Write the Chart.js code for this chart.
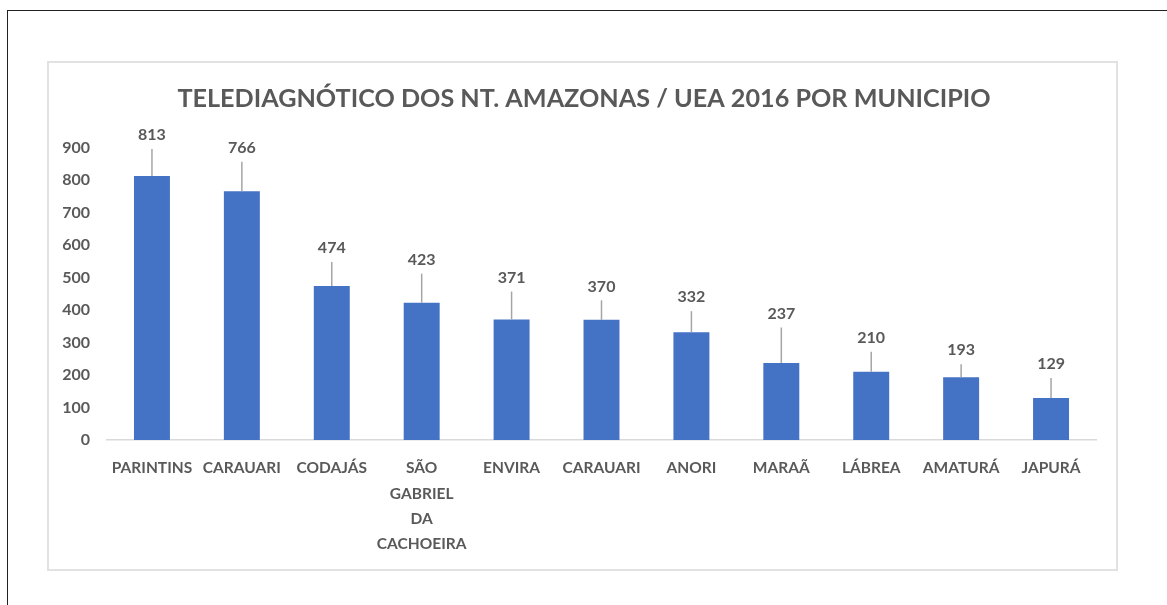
<!DOCTYPE html>
<html>
<head>
<meta charset="utf-8">
<title>Telediagnóstico por município</title>
<script src="https://cdn.jsdelivr.net/npm/chart.js@4.4.1/dist/chart.umd.min.js"></script>
<style>
  html, body { margin: 0; padding: 0; background: #fff; width: 1167px; height: 605px; overflow: hidden; }
  #frame { position: absolute; left: 7px; top: 10px; width: 1300px; height: 800px;
           border-top: 1px solid #222; border-left: 1px solid #222; }
  #box { position: absolute; left: 47px; top: 61px; width: 1067px; height: 506px; border: 2px solid #e2e2e2; }
  #wrap { position: absolute; left: 0; top: 0; width: 1167px; height: 605px; }
</style>
</head>
<body>
<div id="frame"></div>
<div id="box"></div>
<div id="wrap"><canvas id="chart"></canvas></div>

<script>
// data
const municipios = [
  'PARINTINS', 'CARAUARI', 'CODAJÁS', ['SÃO', 'GABRIEL', 'DA', 'CACHOEIRA'],
  'ENVIRA', 'CARAUARI', 'ANORI', 'MARAÃ', 'LÁBREA', 'AMATURÁ', 'JAPURÁ'
];
const exames = [813, 766, 474, 423, 371, 370, 332, 237, 210, 193, 129];
const yTicks = [0, 100, 200, 300, 400, 500, 600, 700, 800, 900];

const TEXT = '#595959';
const FONT = 'Lato, "Open Sans", sans-serif';

// callout labels: value text sits above the bar, joined by a thin leader line
const calloutPlugin = {
  id: 'callouts',
  afterLayout(chart, args, opts){
    // title in the original is a little right of the canvas centre
    if(chart.titleBlock){
      chart.titleBlock.left += opts.titleShift;
      chart.titleBlock.right += opts.titleShift;
    }
  },
  afterDatasetsDraw(chart, args, opts){
    const { ctx } = chart;
    const meta = chart.getDatasetMeta(0);
    ctx.save();
    ctx.font = `bold ${opts.size}px ${FONT}`;
    ctx.fillStyle = TEXT;
    ctx.textAlign = 'center';
    ctx.textBaseline = 'middle';
    meta.data.forEach((bar, i) => {
      const top = bar.y;
      const ly = top - opts.gaps[i];
      ctx.strokeStyle = opts.lineColor;
      ctx.lineWidth = 1.5;
      ctx.beginPath();
      ctx.moveTo(bar.x, top);
      ctx.lineTo(bar.x, ly + 14);
      ctx.stroke();
      ctx.fillText(String(exames[i]), bar.x, ly);
    });
    ctx.restore();
  }
};

const ctx = document.getElementById('chart').getContext('2d');
new Chart(ctx, {
  type: 'bar',
  data: {
    labels: municipios,
    datasets: [{
      label: 'Telediagnóstico',
      data: exames,
      backgroundColor: '#4472C4',
      categoryPercentage: 1,
      barPercentage: 0.4,
    }]
  },
  options: {
    responsive: true,
    maintainAspectRatio: false,
    animation: false,
    layout: { padding: { left: 55, right: 71, top: 0, bottom: 30 } },
    plugins: {
      legend: { display: false },
      tooltip: { enabled: false },
      title: {
        display: true,
        text: 'TELEDIAGNÓTICO DOS NT. AMAZONAS / UEA 2016 POR MUNICIPIO',
        color: TEXT,
        font: { family: FONT, size: 25.2, weight: 'bold', lineHeight: 1.2 },
        padding: { top: 84, bottom: 33.5 },
      },
      callouts: {
        size: 16,
        lineColor: '#a5a5a5',
        titleShift: 8.5,
        gaps: [41, 43.5, 38, 43, 42, 33.5, 35, 49.5, 34, 27, 34],
      },
    },
    scales: {
      x: {
        grid: { display: false, drawTicks: false },
        border: { display: true, color: '#d9d9d9', width: 1.5 },
        ticks: {
          color: TEXT,
          padding: 15.5,
          maxRotation: 0,
          autoSkip: false,
          font: { family: FONT, size: 15.5, weight: 'bold', lineHeight: 1.64 },
        },
        afterFit: (s) => { s.height = 135; },
      },
      y: {
        min: 0,
        max: 900,
        grid: { display: false, drawTicks: false },
        border: { display: false },
        afterBuildTicks: (s) => { s.ticks = yTicks.map(v => ({ value: v })); },
        ticks: {
          color: TEXT,
          padding: 17,
          font: { family: FONT, size: 16, weight: 'bold' },
        },
        afterFit: (s) => { s.width = 52; },
      }
    }
  },
  plugins: [calloutPlugin]
});
</script>
</body>
</html>
